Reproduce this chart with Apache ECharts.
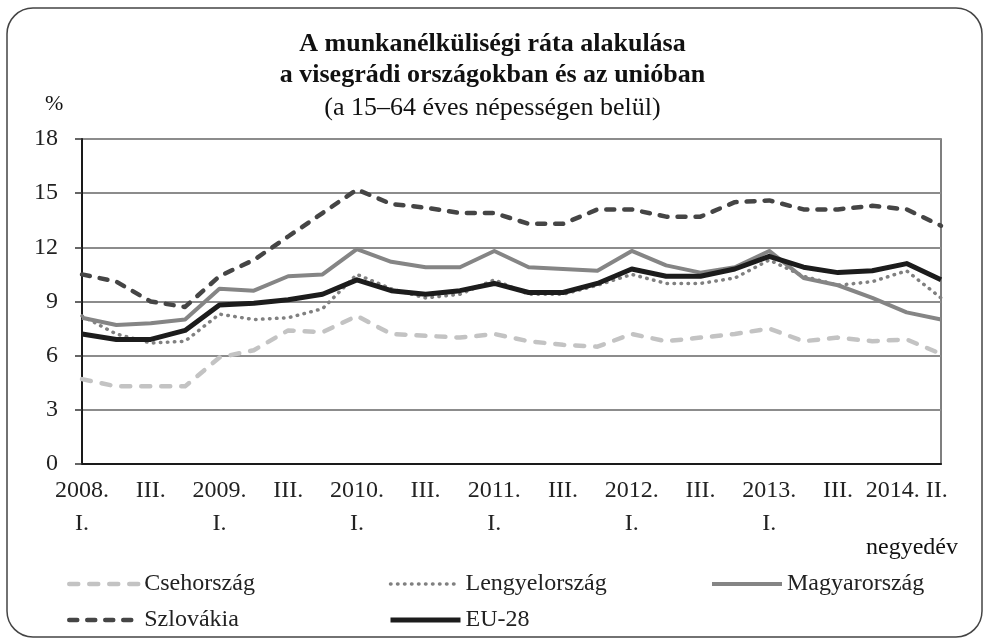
<!DOCTYPE html>
<html>
<head>
<meta charset="utf-8">
<title>munkanélküliségi ráta</title>
<script src="https://cdn.jsdelivr.net/npm/echarts@6/dist/echarts.min.js"></script>
<style>
	html, body { margin: 0; padding: 0; background: #fff; }
	#main { width: 985px; height: 639px; }
</style>
</head>
<body>
<div id="main"></div>
<script>
/**
 * adatok: negyedéves munkanélküliségi ráta, 2008 I. - 2014 II.
 */
var quarters = [
	'2008.\nI.', 'II.', 'III.', 'IV.',
	'2009.\nI.', 'II.', 'III.', 'IV.',
	'2010.\nI.', 'II.', 'III.', 'IV.',
	'2011.\nI.', 'II.', 'III.', 'IV.',
	'2012.\nI.', 'II.', 'III.', 'IV.',
	'2013.\nI.', 'II.', 'III.', 'IV.',
	'2014. II.', 'II.'
];
var y_ticks = [0, 3, 6, 9, 12, 15, 18];

var cseh = [4.7, 4.3, 4.3, 4.3, 5.9, 6.3, 7.4, 7.3, 8.2, 7.2, 7.1, 7.0, 7.2, 6.8, 6.6, 6.5, 7.2, 6.8, 7.0, 7.2, 7.5, 6.8, 7.0, 6.8, 6.9, 6.1];
var lengyel = [8.2, 7.2, 6.7, 6.8, 8.3, 8.0, 8.1, 8.6, 10.5, 9.7, 9.2, 9.4, 10.2, 9.4, 9.4, 9.9, 10.5, 10.0, 10.0, 10.3, 11.3, 10.4, 9.9, 10.1, 10.7, 9.2];
var magyar = [8.1, 7.7, 7.8, 8.0, 9.7, 9.6, 10.4, 10.5, 11.9, 11.2, 10.9, 10.9, 11.8, 10.9, 10.8, 10.7, 11.8, 11.0, 10.6, 10.9, 11.8, 10.3, 9.9, 9.2, 8.4, 8.0];
var szlovak = [10.5, 10.1, 9.0, 8.7, 10.4, 11.3, 12.6, 13.9, 15.2, 14.4, 14.2, 13.9, 13.9, 13.3, 13.3, 14.1, 14.1, 13.7, 13.7, 14.5, 14.6, 14.1, 14.1, 14.3, 14.1, 13.2];
var eu28 = [7.2, 6.9, 6.9, 7.4, 8.8, 8.9, 9.1, 9.4, 10.2, 9.6, 9.4, 9.6, 10.0, 9.5, 9.5, 10.0, 10.8, 10.4, 10.4, 10.8, 11.5, 10.9, 10.6, 10.7, 11.1, 10.2];

var FONT = '"Liberation Serif", "DejaVu Serif", serif';

/**
 * vonalstílusok (sorozat és jelmagyarázat közös)
 */
var styles = {
	'Csehország'    : { color : '#c3c3c3', width : 4.5, type : [9, 11], cap : 'round', join : 'round' },
	'Lengyelország' : { color : '#808080', width : 3.5, type : [0.5, 6.5], cap : 'round', join : 'round' },
	'Magyarország'  : { color : '#858585', width : 4, type : 'solid', cap : 'butt', join : 'round' },
	'Szlovákia'     : { color : '#454545', width : 4.5, type : [8, 10], cap : 'round', join : 'round' },
	'EU-28'         : { color : '#1c1c1c', width : 5, type : 'solid', cap : 'butt', join : 'round' }
};

var unemployment = {
	init : function(){
		var myChart = echarts.init(document.getElementById('main'));
		myChart.setOption(unemployment.get_options());
	},

	/**
	 * egy vonal sorozat
	 */
	line : function(name, data, z){
		return {
			name : name,
			type : 'line',
			data : data,
			symbol : 'none',
			smooth : false,
			z : z,
			lineStyle : styles[name],
			itemStyle : { color : styles[name].color },
			emphasis : { disabled : true }
		};
	},

	/**
	 * jelmagyarázat oszlop
	 */
	legend_item : function(names, left){
		var data = [];
		for(var i = 0; i < names.length; i++){
			data.push({
				name : names[i],
				itemStyle : { opacity : 0 },
				lineStyle : styles[names[i]]
			});
		}
		return {
			data : data,
			orient : 'vertical',
			left : left,
			top : 567,
			itemWidth : 70,
			itemHeight : 12,
			itemGap : 12,
			selectedMode : false,
			textStyle : { fontFamily : FONT, fontSize : 24, color : '#222' }
		};
	},

	get_options : function(){
		return {
			backgroundColor : '#fff',
			animation : false,
			title : [
				{
					text : 'A munkanélküliségi ráta alakulása\na visegrádi országokban és az unióban',
					left : 'center',
					top : 24,
					textStyle : { fontFamily : FONT, fontSize : 26, fontWeight : 'bold', color : '#111', lineHeight : 31 }
				},
				{
					text : '(a 15–64 éves népességen belül)',
					left : 'center',
					top : 90,
					textStyle : { fontFamily : FONT, fontSize : 26, fontWeight : 'normal', color : '#111' }
				},
				{
					text : '%',
					left : 40,
					top : 88,
					textStyle : { fontFamily : FONT, fontSize : 22, fontWeight : 'normal', color : '#111' }
				},
				{
					text : 'negyedév',
					right : 22,
					top : 531,
					textStyle : { fontFamily : FONT, fontSize : 24, fontWeight : 'normal', color : '#111' }
				}
			],
			graphic : [
				{
					type : 'rect',
					shape : { x : 7, y : 8, width : 975, height : 629, r : 26 },
					style : { fill : 'none', stroke : '#444', lineWidth : 1.5 },
					silent : true
				}
			],
			legend : [
				unemployment.legend_item(['Csehország', 'Szlovákia'], 62),
				unemployment.legend_item(['Lengyelország', 'EU-28'], 383),
				unemployment.legend_item(['Magyarország'], 705)
			],
			grid : {
				left : 82,
				right : 44,
				top : 139,
				bottom : 175,
				show : true,
				borderColor : '#555',
				borderWidth : 1.5,
				containLabel : false
			},
			xAxis : {
				type : 'category',
				data : quarters,
				boundaryGap : false,
				axisLine : { show : true, lineStyle : { color : '#1a1a1a', width : 2 } },
				axisTick : { show : false },
				splitLine : { show : false },
				axisLabel : {
					interval : 1,
					margin : 10,
					fontFamily : FONT,
					fontSize : 24,
					color : '#222',
					lineHeight : 33
				}
			},
			yAxis : {
				type : 'value',
				min : y_ticks[0],
				max : y_ticks[y_ticks.length - 1],
				interval : 3,
				axisLine : { show : true, lineStyle : { color : '#1a1a1a', width : 2 } },
				axisTick : { show : true, length : 7, lineStyle : { color : '#333', width : 1.5 } },
				splitLine : { show : true, lineStyle : { color : '#8c8c8c', width : 2 } },
				axisLabel : {
					margin : 24,
					fontFamily : FONT,
					fontSize : 24,
					color : '#222'
				}
			},
			series : [
				unemployment.line('Csehország', cseh, 2),
				unemployment.line('Lengyelország', lengyel, 3),
				unemployment.line('Magyarország', magyar, 4),
				unemployment.line('Szlovákia', szlovak, 5),
				unemployment.line('EU-28', eu28, 6)
			]
		};
	}
};

unemployment.init();
</script>
</body>
</html>
